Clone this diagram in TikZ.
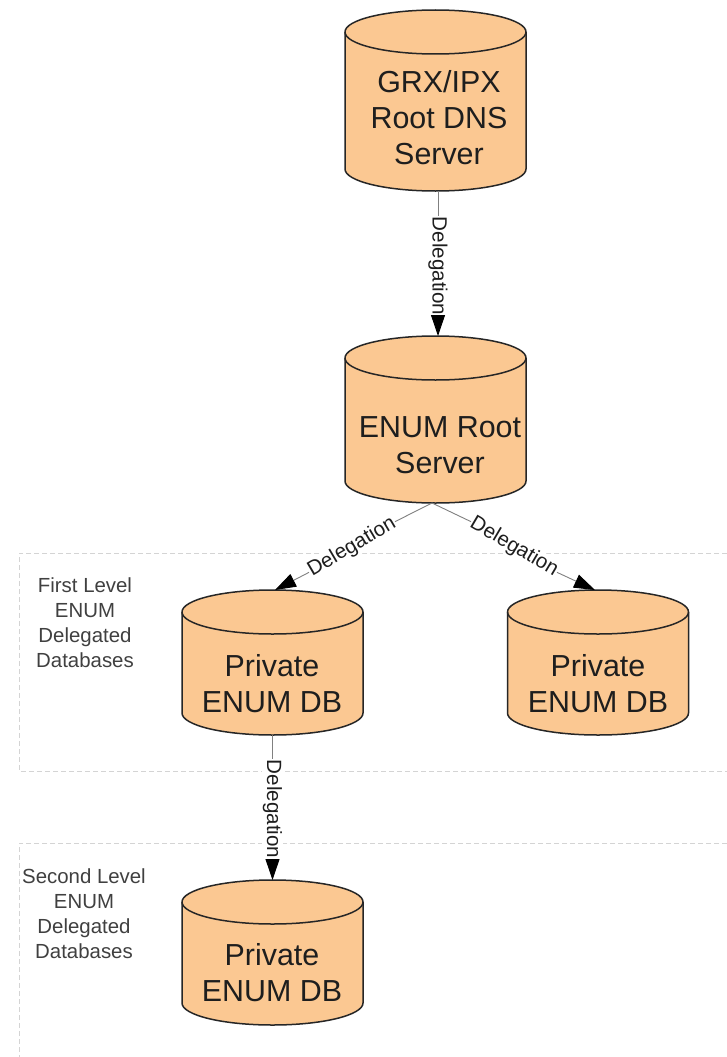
\documentclass[tikz,border=0pt]{standalone}
\usepackage{fontspec}
\setmainfont{Liberation Sans}
\usetikzlibrary{arrows.meta}
\definecolor{dbfill}{HTML}{FBC892}
\definecolor{dbline}{HTML}{262626}
\definecolor{txt}{HTML}{1E1E1E}
\definecolor{zoneline}{HTML}{D4D4D4}
\tikzset{
  x=1pt,y=-1pt,
  dbtext/.style={font=\fontsize{30.4}{36}\selectfont,align=center,text=txt,inner sep=0pt},
  dbbox/.style={inner sep=0pt,outer sep=0pt,minimum width=#1},
  zone/.style={draw=zoneline,line width=0.9pt,dash pattern=on 5pt off 3pt},
  zonetext/.style={font=\fontsize{20.4}{25}\selectfont,align=center,text=txt!85!white,inner sep=0pt},
  deleg/.style={draw=black!50,line width=0.9pt,-{Triangle[length=21pt,width=14pt,black]}},
  delegplain/.style={draw=black!50,line width=0.9pt},
  deleglabel/.style={font=\fontsize{20.6}{24}\selectfont,text=txt,fill=white,inner xsep=0.5pt,inner ysep=1pt},
}
% name, x centre, y top, y bottom
\newcommand{\dbcyl}[4]{%
  \node[dbbox=181pt,minimum height={(#4-#3)*1pt}] (#1) at (#2,{(#3+#4)/2}) {};
  \draw[draw=dbline,fill=dbfill,line width=1.5pt]
    (#2-90.5,#3+22) arc[start angle=180,end angle=0,x radius=90.5,y radius=-22]
    -- (#2+90.5,#4-22) arc[start angle=0,end angle=-180,x radius=90.5,y radius=-22] -- cycle;
  \draw[draw=dbline,line width=1.5pt]
    (#2-90.5,#3+22) arc[start angle=180,end angle=360,x radius=90.5,y radius=-22];
}
\begin{document}
\begin{tikzpicture}
\useasboundingbox (0,0) rectangle (727,1057);
\fill[white] (0,0) rectangle (727,1057);
% zones
\draw[zone] (735,553) -- (19,553) -- (19,771) -- (735,771);
\draw[zone] (735,843) -- (19,843) -- (19,1065);
\node[zonetext] (zonea) at (85,623) {First Level\\ENUM\\Delegated\\Databases};
\node[zonetext] (zoneb) at (84,914) {Second Level\\ENUM\\Delegated\\Databases};
% cylinders
\dbcyl{grx}{435.5}{10}{191}
\dbcyl{enum}{435.5}{336}{503}
\dbcyl{pa}{272.5}{590}{735}
\dbcyl{pb}{598}{590}{735}
\dbcyl{pc}{272.5}{880}{1025}
\node[dbtext] (grxt) at (439,118) {GRX/IPX\\Root DNS\\Server};
\node[dbtext] (enumt) at (440,445) {ENUM Root\\Server};
\node[dbtext] (pat) at (272,684) {Private\\ENUM DB};
\node[dbtext] (pbt) at (598,684) {Private\\ENUM DB};
\node[dbtext] (pct) at (272,973) {Private\\ENUM DB};
% connectors
\coordinate (grxout) at ([xshift=2.5pt]grx.south);
\coordinate (enumin) at ([xshift=2.5pt]enum.north);
\coordinate (enumout) at ([xshift=-3.5pt]enum.south);
\coordinate (pain) at ([xshift=2.5pt]pa.north);
\coordinate (pbin) at ([xshift=-3pt]pb.north);
\node[deleglabel,rotate=-90] (la) at (438,266) {Delegation};
\node[deleglabel,rotate=30.5] (lb) at (352,547) {Delegation};
\node[deleglabel,rotate=-30.5] (lc) at (514,547) {Delegation};
\node[deleglabel,rotate=-90] (ld) at (272.5,809) {Delegation};
\draw[delegplain] (grxout) -- (la.west);
\draw[deleg] (la.east) -- (enumin);
\draw[delegplain] (enumout) -- (lb.east);
\draw[deleg] (lb.west) -- (pain);
\draw[delegplain] (enumout) -- (lc.west);
\draw[deleg] (lc.east) -- (pbin);
\draw[delegplain] (pa.south) -- (ld.west);
\draw[deleg] (ld.east) -- (pc.north);
\end{tikzpicture}
\end{document}
